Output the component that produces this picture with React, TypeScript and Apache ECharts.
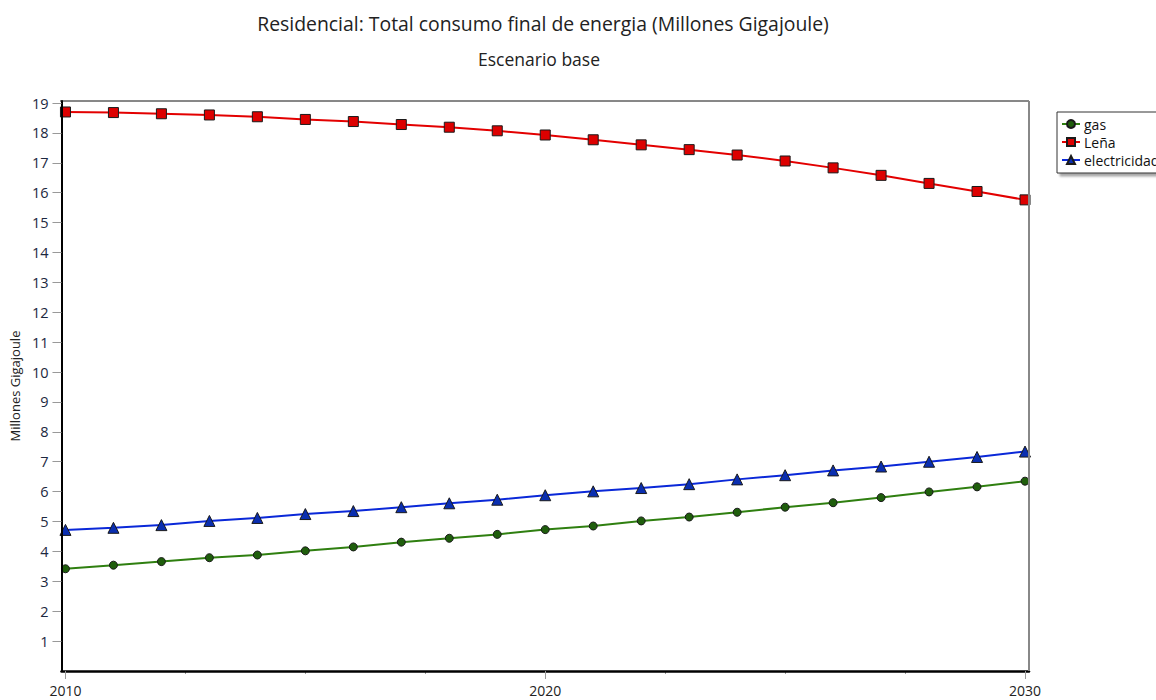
import React, { useEffect, useRef } from "react";
import * as echarts from "echarts";

const years = [2010, 2011, 2012, 2013, 2014, 2015, 2016, 2017, 2018, 2019, 2020, 2021, 2022, 2023, 2024, 2025, 2026, 2027, 2028, 2029, 2030];
const gas = [3.42, 3.54, 3.66, 3.79, 3.88, 4.02, 4.15, 4.31, 4.44, 4.57, 4.73, 4.85, 5.02, 5.15, 5.31, 5.48, 5.63, 5.80, 5.99, 6.16, 6.35];
const lena = [18.70, 18.68, 18.64, 18.60, 18.54, 18.45, 18.38, 18.28, 18.19, 18.07, 17.93, 17.77, 17.60, 17.44, 17.26, 17.06, 16.83, 16.58, 16.31, 16.04, 15.76];
const electricidad = [4.72, 4.79, 4.88, 5.02, 5.12, 5.25, 5.35, 5.48, 5.61, 5.73, 5.88, 6.01, 6.12, 6.25, 6.41, 6.55, 6.71, 6.84, 7.00, 7.16, 7.34];
const yTickLabels = [1, 2, 3, 4, 5, 6, 7, 8, 9, 10, 11, 12, 13, 14, 15, 16, 17, 18, 19];
const xMajorTicks = [2010, 2020, 2030];
const xMinorTicks = [2012.5, 2015, 2017.5, 2022.5, 2025, 2027.5];

const FONT = "'Open Sans', 'Noto Sans', sans-serif";

export default function App() {
  const ref = useRef<HTMLDivElement>(null);
  useEffect(() => {
    if (!ref.current) return;
    const chart = echarts.init(ref.current, undefined, { renderer: "svg" });
    const pair = (arr: number[]) => years.map((y, i) => [y, arr[i]]);
    chart.setOption({
      animation: false,
      backgroundColor: "#ffffff",
      textStyle: { fontFamily: FONT },
      title: [
        {
          text: "Residencial: Total consumo final de energia (Millones Gigajoule)",
          left: 538,
          textAlign: "center",
          top: 9,
          textStyle: { fontFamily: FONT, fontSize: 19.4, fontWeight: "normal", color: "#222" },
        },
        {
          text: "Escenario base",
          left: 534,
          textAlign: "center",
          top: 45,
          textStyle: { fontFamily: FONT, fontSize: 17.5, fontWeight: "normal", color: "#222" },
        },
      ],
      legend: {
        orient: "vertical",
        left: 1057,
        top: 112,
        backgroundColor: "#fff",
        borderColor: "#333",
        borderWidth: 1,
        borderRadius: 0,
        padding: [5, 8, 6, 4],
        itemGap: 4,
        itemWidth: 18,
        itemHeight: 10,
        shadowColor: "rgba(0,0,0,0.35)",
        shadowBlur: 2,
        shadowOffsetX: 3,
        shadowOffsetY: 3,
        textStyle: { fontFamily: FONT, fontSize: 14, color: "#111", padding: [0, 0, 0, -1] },
        data: ["gas", "Leña", "electricidad"],
      },
      grid: { left: 60, right: 127, top: 101, bottom: 29, show: false },
      graphic: [
        { type: "line", shape: { x1: 60, y1: 101, x2: 1029, y2: 101 }, style: { stroke: "#111", lineWidth: 1 }, z: 10 },
        { type: "line", shape: { x1: 1029, y1: 101, x2: 1029, y2: 671 }, style: { stroke: "#888", lineWidth: 2 }, z: 10 },
      ],
      xAxis: [
        {
          type: "value",
          min: 2009.917,
          max: 2030.083,
          splitLine: { show: false },
          axisLine: { show: true, onZero: false, lineStyle: { color: "#000", width: 2.5 } },
          axisTick: { show: true, customValues: xMajorTicks, length: 8, lineStyle: { color: "#999", width: 1 } },
          axisLabel: {
            customValues: xMajorTicks,
            margin: 12,
            fontFamily: FONT,
            fontSize: 14,
            color: "#222",
            formatter: (v: number) => String(Math.round(v)),
          },
          z: 5,
        },
        {
          type: "value",
          min: 2009.917,
          max: 2030.083,
          position: "bottom",
          splitLine: { show: false },
          axisLine: { show: false },
          axisTick: { show: true, customValues: xMinorTicks, length: 3, lineStyle: { color: "#999", width: 1 } },
          axisLabel: { show: false },
        },
      ],
      yAxis: {
        type: "value",
        min: 0,
        max: 19.067,
        name: "Millones Gigajoule",
        nameLocation: "middle",
        nameRotate: 90,
        nameGap: 31,
        nameTextStyle: { fontFamily: FONT, fontSize: 13, color: "#222" },
        splitLine: { show: false },
        axisLine: { show: true, onZero: false, lineStyle: { color: "#000", width: 2 } },
        axisTick: { show: true, customValues: yTickLabels, length: 9, lineStyle: { color: "#999", width: 1 } },
        axisLabel: {
          customValues: yTickLabels,
          margin: 13,
          fontFamily: FONT,
          fontSize: 14.5,
          color: "#1c2840",
        },
        z: 5,
      },
      series: [
        {
          name: "gas",
          type: "line",
          data: pair(gas),
          symbol: "circle",
          symbolSize: 8,
          lineStyle: { color: "#2f7f10", width: 2 },
          itemStyle: { color: "#1f5e0c", borderColor: "#1a1a1a", borderWidth: 1 },
          z: 3,
        },
        {
          name: "Leña",
          type: "line",
          data: pair(lena),
          symbol: "rect",
          symbolSize: 10,
          lineStyle: { color: "#e30000", width: 2 },
          itemStyle: { color: "#dd0000", borderColor: "#1a1a1a", borderWidth: 1 },
          z: 3,
        },
        {
          name: "electricidad",
          type: "line",
          data: pair(electricidad),
          symbol: "triangle",
          symbolSize: 11,
          lineStyle: { color: "#0a28d8", width: 2 },
          itemStyle: { color: "#0a2eb0", borderColor: "#1a1a1a", borderWidth: 1 },
          z: 3,
        },
      ],
    });
    return () => chart.dispose();
  }, []);
  return <div ref={ref} style={{ position: "absolute", left: 0, top: 0, width: 1156, height: 700 }} />;
}
